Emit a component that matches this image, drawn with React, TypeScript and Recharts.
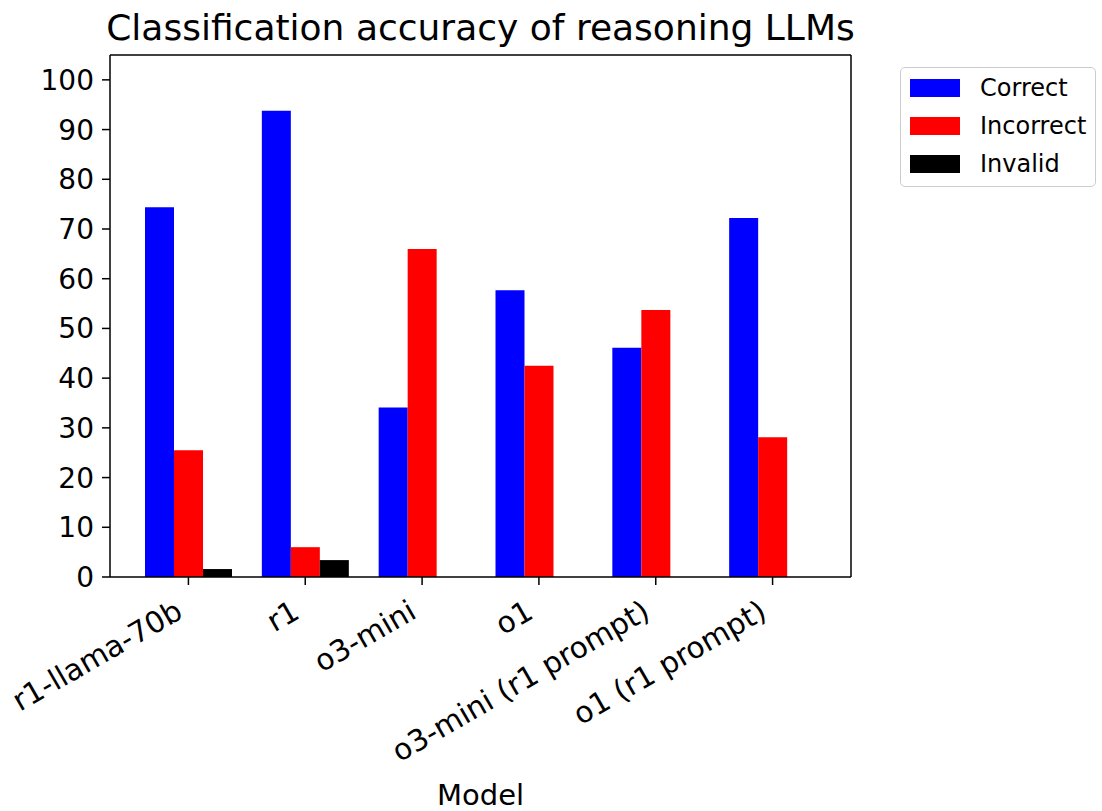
import React from "react";
import { Bar, BarChart, XAxis, YAxis, Legend } from "recharts";

const models = [
  "r1-llama-70b",
  "r1",
  "o3-mini",
  "o1",
  "o3-mini (r1 prompt)",
  "o1 (r1 prompt)",
];
const correct = [74.4, 93.8, 34.1, 57.7, 46.1, 72.2];
const incorrect = [25.5, 6.0, 66.0, 42.5, 53.7, 28.1];
const invalid = [1.6, 3.4, 0, 0, 0, 0];
const yTicks = [0, 10, 20, 30, 40, 50, 60, 70, 80, 90, 100];

const series = [
  { key: "correct", name: "Correct", color: "#0000ff" },
  { key: "incorrect", name: "Incorrect", color: "#ff0000" },
  { key: "invalid", name: "Invalid", color: "#000000" },
];

const data = models.map((model, i) => ({
  model,
  correct: correct[i],
  incorrect: incorrect[i],
  invalid: invalid[i],
}));

const FONT = "'DejaVu Sans', sans-serif";
const spine = { stroke: "#000", strokeWidth: 1.5 };

function RotatedTick(props: any) {
  const { x, y, payload } = props;
  const bx = x - 4;
  const by = y + 32;
  return (
    <text
      x={bx}
      y={by}
      textAnchor="end"
      transform={`rotate(-30, ${bx}, ${by})`}
      fontSize={29.5}
      fontFamily={FONT}
      fill="#000"
    >
      {payload.value}
    </text>
  );
}

function LegendBox() {
  return (
    <div
      style={{
        border: "1.5px solid #cccccc",
        borderRadius: 5,
        background: "#fff",
        padding: "1px 8px 3px 9px",
        fontFamily: FONT,
        fontSize: 24,
        color: "#000",
      }}
    >
      {series.map((s) => (
        <div
          key={s.key}
          style={{ display: "flex", alignItems: "center", height: 38 }}
        >
          <div style={{ width: 50, height: 18, background: s.color }} />
          <span style={{ marginLeft: 20, lineHeight: "24px" }}>{s.name}</span>
        </div>
      ))}
    </div>
  );
}

export default function App() {
  return (
    <div
      style={{
        position: "absolute",
        left: 0,
        top: 0,
        width: 1102,
        height: 811,
        background: "#fff",
        fontFamily: FONT,
      }}
    >
      <div
        style={{
          position: "absolute",
          left: 80,
          width: 801,
          top: 10,
          textAlign: "center",
          fontSize: 36,
          lineHeight: "36px",
          color: "#000",
          whiteSpace: "nowrap",
        }}
      >
        Classification accuracy of reasoning LLMs
      </div>
      <BarChart
        width={1102}
        height={811}
        data={data}
        margin={{ top: 54, right: 250, bottom: 0, left: 0 }}
        barGap={0}
        barCategoryGap={0}
      >
        <XAxis
          dataKey="model"
          height={234}
          padding={{ left: 20, right: 20 }}
          interval={0}
          tick={<RotatedTick />}
          tickSize={8}
          tickMargin={0}
          axisLine={spine}
          tickLine={spine}
          label={{
            value: "Model",
            position: "insideBottom",
            offset: 6,
            fontSize: 29,
            fontFamily: FONT,
            fill: "#000",
          }}
        />
        {/* top spine */}
        <XAxis
          xAxisId="top"
          dataKey="model"
          orientation="top"
          height={1}
          tick={false}
          tickLine={false}
          axisLine={spine}
        />
        <YAxis
          type="number"
          domain={[0, 105]}
          ticks={yTicks}
          allowDataOverflow
          width={110}
          tickSize={8}
          tickMargin={8}
          tick={{ fontSize: 28, fontFamily: FONT, fill: "#000" }}
          axisLine={spine}
          tickLine={spine}
        />
        {/* right spine */}
        <YAxis
          yAxisId="right"
          orientation="right"
          type="number"
          domain={[0, 105]}
          width={1}
          tick={false}
          tickLine={false}
          axisLine={spine}
        />
        <Legend
          align="center"
          verticalAlign="middle"
          wrapperStyle={{ left: 900, top: 67, width: 196 }}
          content={() => <LegendBox />}
        />
        {series.map((s) => (
          <Bar
            key={s.key}
            dataKey={s.key}
            name={s.name}
            fill={s.color}
            barSize={29}
            isAnimationActive={false}
          />
        ))}
      </BarChart>
    </div>
  );
}
